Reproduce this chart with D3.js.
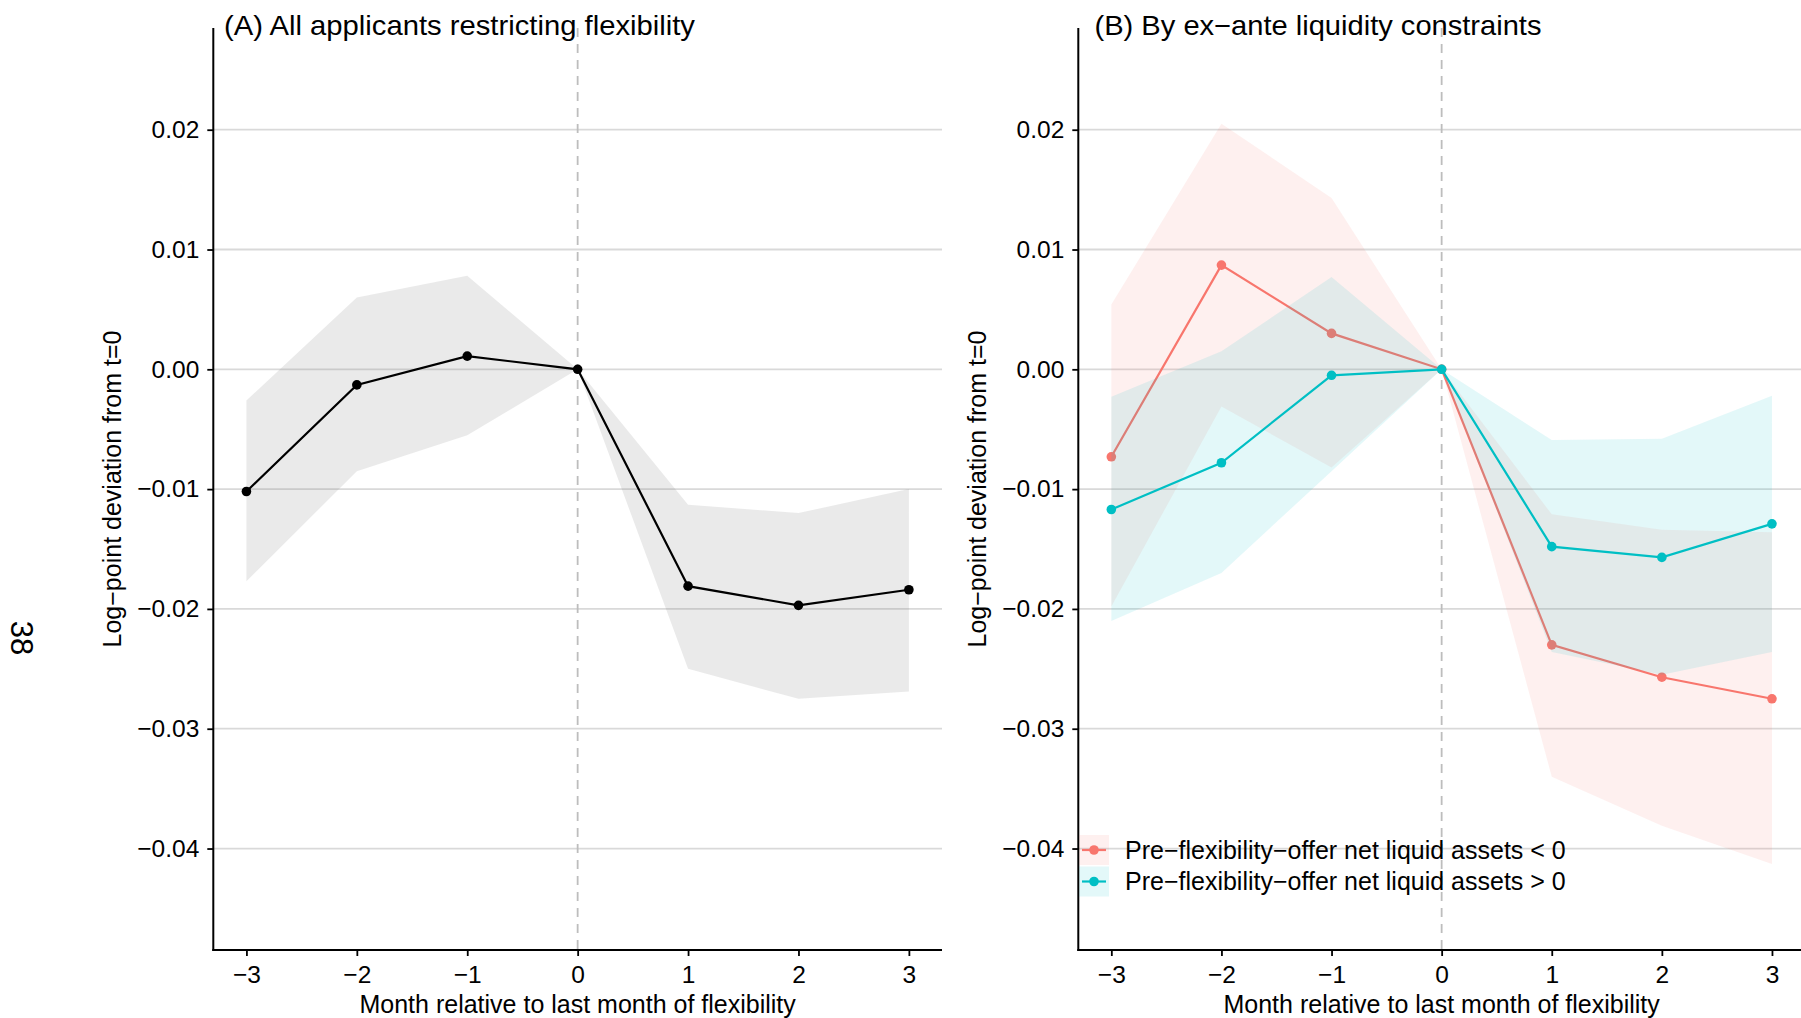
<!DOCTYPE html>
<html>
<head>
<meta charset="utf-8">
<script src="https://cdn.jsdelivr.net/npm/d3@7"></script>
<style>
  html, body { margin: 0; padding: 0; background: #fff; }
  svg { display: block; }
  text { font-family: "Liberation Sans", Arial, Helvetica, sans-serif; fill: #000; }
</style>
</head>
<body>
<svg id="chart" width="1801" height="1018"></svg>
<script>
// Event-time months relative to the last month of flexibility
const months = [-3, -2, -1, 0, 1, 2, 3];

// Panel A: all applicants restricting flexibility (estimate and 95% band)
const allEst = [-0.0102, -0.0013, 0.0011, 0, -0.0181, -0.0197, -0.0184];
const allLo  = [-0.0177, -0.0085, -0.0055, 0, -0.0250, -0.0275, -0.0269];
const allHi  = [-0.0026, 0.0060, 0.0078, 0, -0.0113, -0.0120, -0.0100];

// Panel B: net liquid assets < 0 before the offer
const negEst = [-0.0073, 0.0087, 0.0030, 0, -0.0230, -0.0257, -0.0275];
const negLo  = [-0.0198, -0.0031, -0.0082, 0, -0.0340, -0.0381, -0.0413];
const negHi  = [0.0054, 0.0205, 0.0143, 0, -0.0121, -0.0134, -0.0136];

// Panel B: net liquid assets > 0 before the offer
const posEst = [-0.0117, -0.0078, -0.0005, 0, -0.0148, -0.0157, -0.0129];
const posLo  = [-0.0210, -0.0170, -0.0085, 0, -0.0236, -0.0255, -0.0236];
const posHi  = [-0.0023, 0.0015, 0.0077, 0, -0.0059, -0.0058, -0.0022];

const yTicks = [-0.04, -0.03, -0.02, -0.01, 0, 0.01, 0.02];
const xTicks = [-3, -2, -1, 0, 1, 2, 3];

const titleA = "(A) All applicants restricting flexibility";
const titleB = "(B) By ex\u2212ante liquidity constraints";
const xTitle = "Month relative to last month of flexibility";
const yTitle = "Log\u2212point deviation from t=0";
const legendLabels = [
  "Pre\u2212flexibility\u2212offer net liquid assets < 0",
  "Pre\u2212flexibility\u2212offer net liquid assets > 0"
];
const pageNumber = "38";

const RED = "#F8766D", TEAL = "#00BFC4";

const svg = d3.select("#chart");

const panelTop = 28, panelBottom = 950;
const y = d3.scaleLinear().domain([-0.04847, 0.02849]).range([panelBottom, panelTop]);

function rows(est, lo, hi) {
  return months.map((m, i) => ({ m, est: est[i], lo: lo[i], hi: hi[i] }));
}

function drawPanel(opts) {
  const x = d3.scaleLinear().domain([-3.3, 3.3]).range([opts.left, opts.right]);
  const g = svg.append("g");

  // horizontal grid
  g.append("g").selectAll("line").data(yTicks).join("line")
    .attr("x1", opts.left).attr("x2", opts.right)
    .attr("y1", d => y(d)).attr("y2", d => y(d))
    .attr("stroke", "#d9d9d9").attr("stroke-width", 1.8);

  // reference line at t = 0
  g.append("line")
    .attr("x1", x(0)).attr("x2", x(0)).attr("y1", panelTop).attr("y2", panelBottom)
    .attr("stroke", "#bdbdbd").attr("stroke-width", 1.8)
    .attr("stroke-dasharray", "9,7");

  const area = d3.area().x(d => x(d.m)).y0(d => y(d.lo)).y1(d => y(d.hi));
  const line = d3.line().x(d => x(d.m)).y(d => y(d.est));

  opts.series.forEach(s => {
    const data = rows(s.est, s.lo, s.hi);
    g.append("path").datum(data).attr("d", area)
      .attr("fill", s.band).attr("fill-opacity", s.bandOpacity);
    g.append("path").datum(data).attr("d", line)
      .attr("fill", "none").attr("stroke", s.color).attr("stroke-width", 2.2);
    g.append("g").selectAll("circle").data(data).join("circle")
      .attr("cx", d => x(d.m)).attr("cy", d => y(d.est)).attr("r", 4.8)
      .attr("fill", s.color);
  });

  // axes
  const ya = g.append("g").attr("transform", `translate(${opts.left},0)`)
    .call(d3.axisLeft(y).tickValues(yTicks).tickFormat(d3.format(".2f"))
      .tickSize(6).tickPadding(8));
  const xa = g.append("g").attr("transform", `translate(0,${panelBottom})`)
    .call(d3.axisBottom(x).tickValues(xTicks).tickFormat(d3.format("d"))
      .tickSize(6).tickPadding(10));
  [ya, xa].forEach(a => {
    a.select(".domain").remove();
    a.selectAll(".tick line").attr("stroke", "#000").attr("stroke-width", 1.8);
    a.selectAll(".tick text").attr("font-size", 24.5)
      .attr("font-family", "Liberation Sans, Arial, sans-serif").attr("fill", "#000");
  });
  g.append("line").attr("x1", opts.left).attr("x2", opts.left)
    .attr("y1", panelTop).attr("y2", panelBottom + 1)
    .attr("stroke", "#000").attr("stroke-width", 2);
  g.append("line").attr("x1", opts.left - 1).attr("x2", opts.right)
    .attr("y1", panelBottom).attr("y2", panelBottom)
    .attr("stroke", "#000").attr("stroke-width", 2);

  // titles
  g.append("text").attr("x", opts.titleX).attr("y", 35)
    .attr("font-size", 28).attr("textLength", opts.titleLen)
    .attr("lengthAdjust", "spacingAndGlyphs").text(opts.title);
  g.append("text").attr("x", x(0)).attr("y", 1013)
    .attr("text-anchor", "middle").attr("font-size", 25).text(xTitle);
  g.append("text")
    .attr("transform", `translate(${opts.left - 92},489) rotate(-90)`)
    .attr("text-anchor", "middle").attr("font-size", 25).text(yTitle);

  return { g, x };
}

drawPanel({
  left: 213.3, right: 942, titleX: 224, titleLen: 471, title: titleA,
  series: [{ est: allEst, lo: allLo, hi: allHi, color: "#000",
             band: "#7f7f7f", bandOpacity: 0.16 }]
});

const seriesB = [
  { est: negEst, lo: negLo, hi: negHi, color: RED, band: RED, bandOpacity: 0.11 },
  { est: posEst, lo: posLo, hi: posHi, color: TEAL, band: TEAL, bandOpacity: 0.11 }
];
drawPanel({
  left: 1078.3, right: 1805, titleX: 1094.5, titleLen: 447, title: titleB,
  series: seriesB
});

// legend inside panel B, bottom-left
const legend = svg.append("g").attr("transform", "translate(1079,835)");
seriesB.forEach((s, i) => {
  const k = legend.append("g").attr("transform", `translate(0,${i * 31.5})`);
  k.append("rect").attr("width", 30).attr("height", 30)
    .attr("fill", s.band).attr("fill-opacity", s.bandOpacity);
  k.append("line").attr("x1", 3).attr("x2", 27).attr("y1", 15).attr("y2", 15)
    .attr("stroke", s.color).attr("stroke-width", 2.2);
  k.append("circle").attr("cx", 15).attr("cy", 15).attr("r", 4.8).attr("fill", s.color);
  k.append("text").attr("x", 46).attr("y", 15).attr("dy", "0.35em")
    .attr("font-size", 25).text(legendLabels[i]);
});

// page number in the margin
svg.append("text").attr("transform", "translate(22,638) rotate(90)")
  .attr("text-anchor", "middle").attr("dy", "0.35em")
  .attr("font-family", "Liberation Serif, Times New Roman, serif")
  .attr("font-size", 31).text(pageNumber);
</script>
</body>
</html>
